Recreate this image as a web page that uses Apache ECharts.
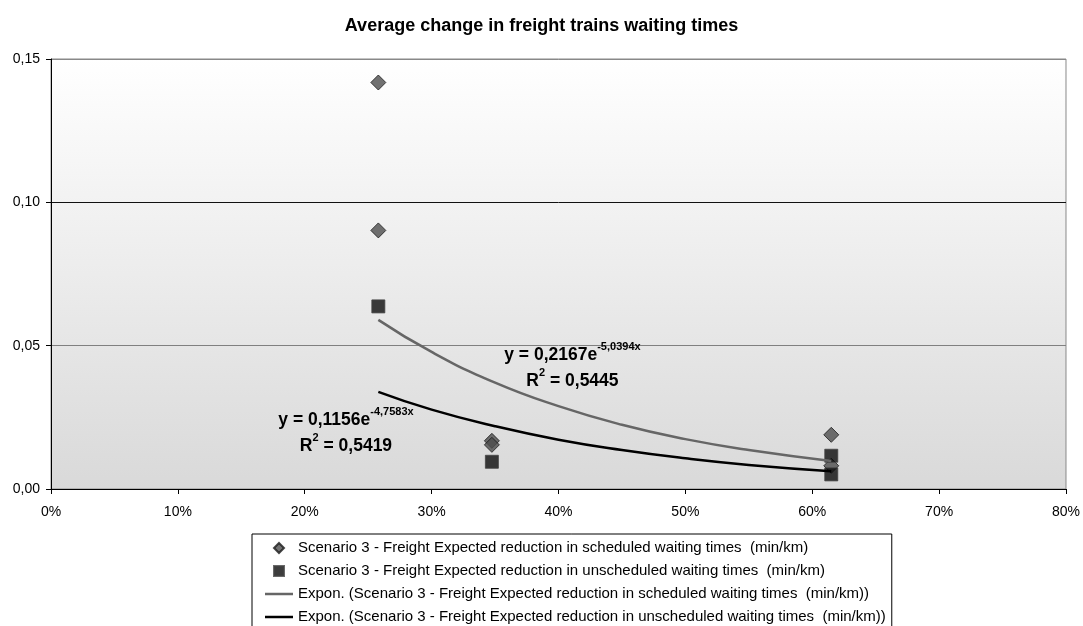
<!DOCTYPE html>
<html>
<head>
<meta charset="utf-8">
<title>Average change in freight trains waiting times</title>
<script src="https://cdn.jsdelivr.net/npm/echarts@6/dist/echarts.min.js"></script>
<style>
  html, body { margin: 0; padding: 0; background: #fff; }
  #chart { width: 1083px; height: 626px; }
</style>
</head>
<body>
<div id="chart"></div>
<script>
// values (x = share, y = min/km)
const scheduledPoints = [
  [0.258, 0.1418], [0.258, 0.0902],
  [0.3475, 0.0168], [0.3475, 0.0154],
  [0.615, 0.0189], [0.615, 0.0081]
]
const unscheduledPoints = [
  [0.258, 0.0637],
  [0.3475, 0.0095],
  [0.615, 0.0116], [0.615, 0.0051]
]
const scheduledTrend = [
  [0.258, 0.059], [0.30, 0.0478], [0.35, 0.0371], [0.40, 0.0289],
  [0.45, 0.0224], [0.50, 0.0174], [0.55, 0.0136], [0.615, 0.0098]
]
const unscheduledTrend = [
  [0.258, 0.0339], [0.30, 0.0277], [0.35, 0.0219], [0.40, 0.0172],
  [0.45, 0.0136], [0.50, 0.0107], [0.55, 0.0084], [0.615, 0.0062]
]
const seriesNames = [
  'Scenario 3 - Freight Expected reduction in scheduled waiting times  (min/km)',
  'Scenario 3 - Freight Expected reduction in unscheduled waiting times  (min/km)',
  'Expon. (Scenario 3 - Freight Expected reduction in scheduled waiting times  (min/km))',
  'Expon. (Scenario 3 - Freight Expected reduction in unscheduled waiting times  (min/km))'
]
const fitLabels = [
  { at: [0.411, 0.0423], eq: '0,2167e', exp: '-5,0394x', r2: '0,5445' },
  { at: [0.2325, 0.0196], eq: '0,1156e', exp: '-4,7583x', r2: '0,5419' }
]

const font = "'Liberation Sans', Arial, sans-serif"

function fitMark(f) {
  return {
    symbol: 'circle',
    symbolSize: 0,
    silent: true,
    data: [{ coord: f.at }],
    label: {
      show: true,
      position: 'inside',
      align: 'center',
      formatter: '{b|y = ' + f.eq + '}{s|' + f.exp + '}\n{b|R}{s|2}{b| = ' + f.r2 + '}',
      rich: {
        b: { fontFamily: font, fontSize: 17.5, fontWeight: 'bold', color: '#000', lineHeight: 26 },
        s: { fontFamily: font, fontSize: 11, fontWeight: 'bold', color: '#000', lineHeight: 12, verticalAlign: 'top' }
      }
    }
  }
}

const chart = echarts.init(document.getElementById('chart'))
chart.setOption({
  animation: false,
  backgroundColor: '#fff',
  title: {
    text: 'Average change in freight trains waiting times',
    left: 'center',
    top: 12,
    textStyle: { fontFamily: font, fontSize: 18, fontWeight: 'bold', color: '#000' }
  },
  grid: {
    left: 51,
    right: 16,
    top: 59,
    bottom: 137,
    show: true,
    borderColor: '#888',
    borderWidth: 1,
    backgroundColor: new echarts.graphic.LinearGradient(0, 0, 0, 1, [
      { offset: 0, color: '#ffffff' },
      { offset: 1, color: '#d9d9d9' }
    ])
  },
  xAxis: {
    type: 'value',
    min: 0,
    max: 0.8,
    interval: 0.1,
    axisLine: { lineStyle: { color: '#000', width: 1 } },
    axisTick: { show: true, length: 5, lineStyle: { color: '#000' } },
    splitLine: { show: false },
    axisLabel: {
      margin: 16,
      fontFamily: font,
      fontSize: 14,
      color: '#000',
      formatter: v => Math.round(v * 100) + '%'
    }
  },
  yAxis: {
    type: 'value',
    min: 0,
    max: 0.15,
    interval: 0.05,
    axisLine: { show: true, lineStyle: { color: '#000', width: 1 } },
    axisTick: { show: true, length: 5, lineStyle: { color: '#000' } },
    splitLine: {
      show: true,
      lineStyle: { color: ['#000', '#808080', '#111', '#888'], width: 1 }
    },
    axisLabel: {
      margin: 11,
      fontFamily: font,
      fontSize: 14,
      color: '#000',
      formatter: v => v.toFixed(2).replace('.', ',')
    }
  },
  legend: {
    orient: 'vertical',
    left: 252,
    top: 534,
    height: 200,
    padding: [6, 6, 20, 13],
    itemWidth: 28,
    itemHeight: 10,
    itemGap: 7,
    itemTextGap: 3,
    symbolKeepAspect: true,
    borderColor: '#000',
    borderWidth: 1,
    backgroundColor: '#fff',
    textStyle: { fontFamily: font, fontSize: 15, color: '#000', lineHeight: 16 },
    data: [
      { name: seriesNames[0], icon: 'path://M5,0L10,5L5,10L0,5Z' },
      { name: seriesNames[1], icon: 'path://M0,0H10V10H0Z' },
      { name: seriesNames[2], icon: 'path://M0,0H28V2.5H0Z' },
      { name: seriesNames[3], icon: 'path://M0,0H28V2.5H0Z' }
    ]
  },
  series: [
    {
      name: seriesNames[0],
      type: 'scatter',
      data: scheduledPoints,
      symbol: 'diamond',
      symbolSize: 15,
      itemStyle: { color: '#4d4d4d', borderColor: '#1a1a1a', borderWidth: 1 }
    },
    {
      name: seriesNames[1],
      type: 'scatter',
      data: unscheduledPoints,
      symbol: 'rect',
      symbolSize: 13,
      itemStyle: { color: '#0d0d0d', borderColor: '#444', borderWidth: 1 }
    },
    {
      name: seriesNames[2],
      type: 'line',
      data: scheduledTrend,
      smooth: true,
      showSymbol: false,
      symbol: 'none',
      lineStyle: { color: '#666', width: 2.5 },
      itemStyle: { color: '#666' },
      markPoint: fitMark(fitLabels[0])
    },
    {
      name: seriesNames[3],
      type: 'line',
      data: unscheduledTrend,
      smooth: true,
      showSymbol: false,
      symbol: 'none',
      lineStyle: { color: '#000', width: 2.5 },
      itemStyle: { color: '#000' },
      markPoint: fitMark(fitLabels[1])
    }
  ]
})
</script>
</body>
</html>
